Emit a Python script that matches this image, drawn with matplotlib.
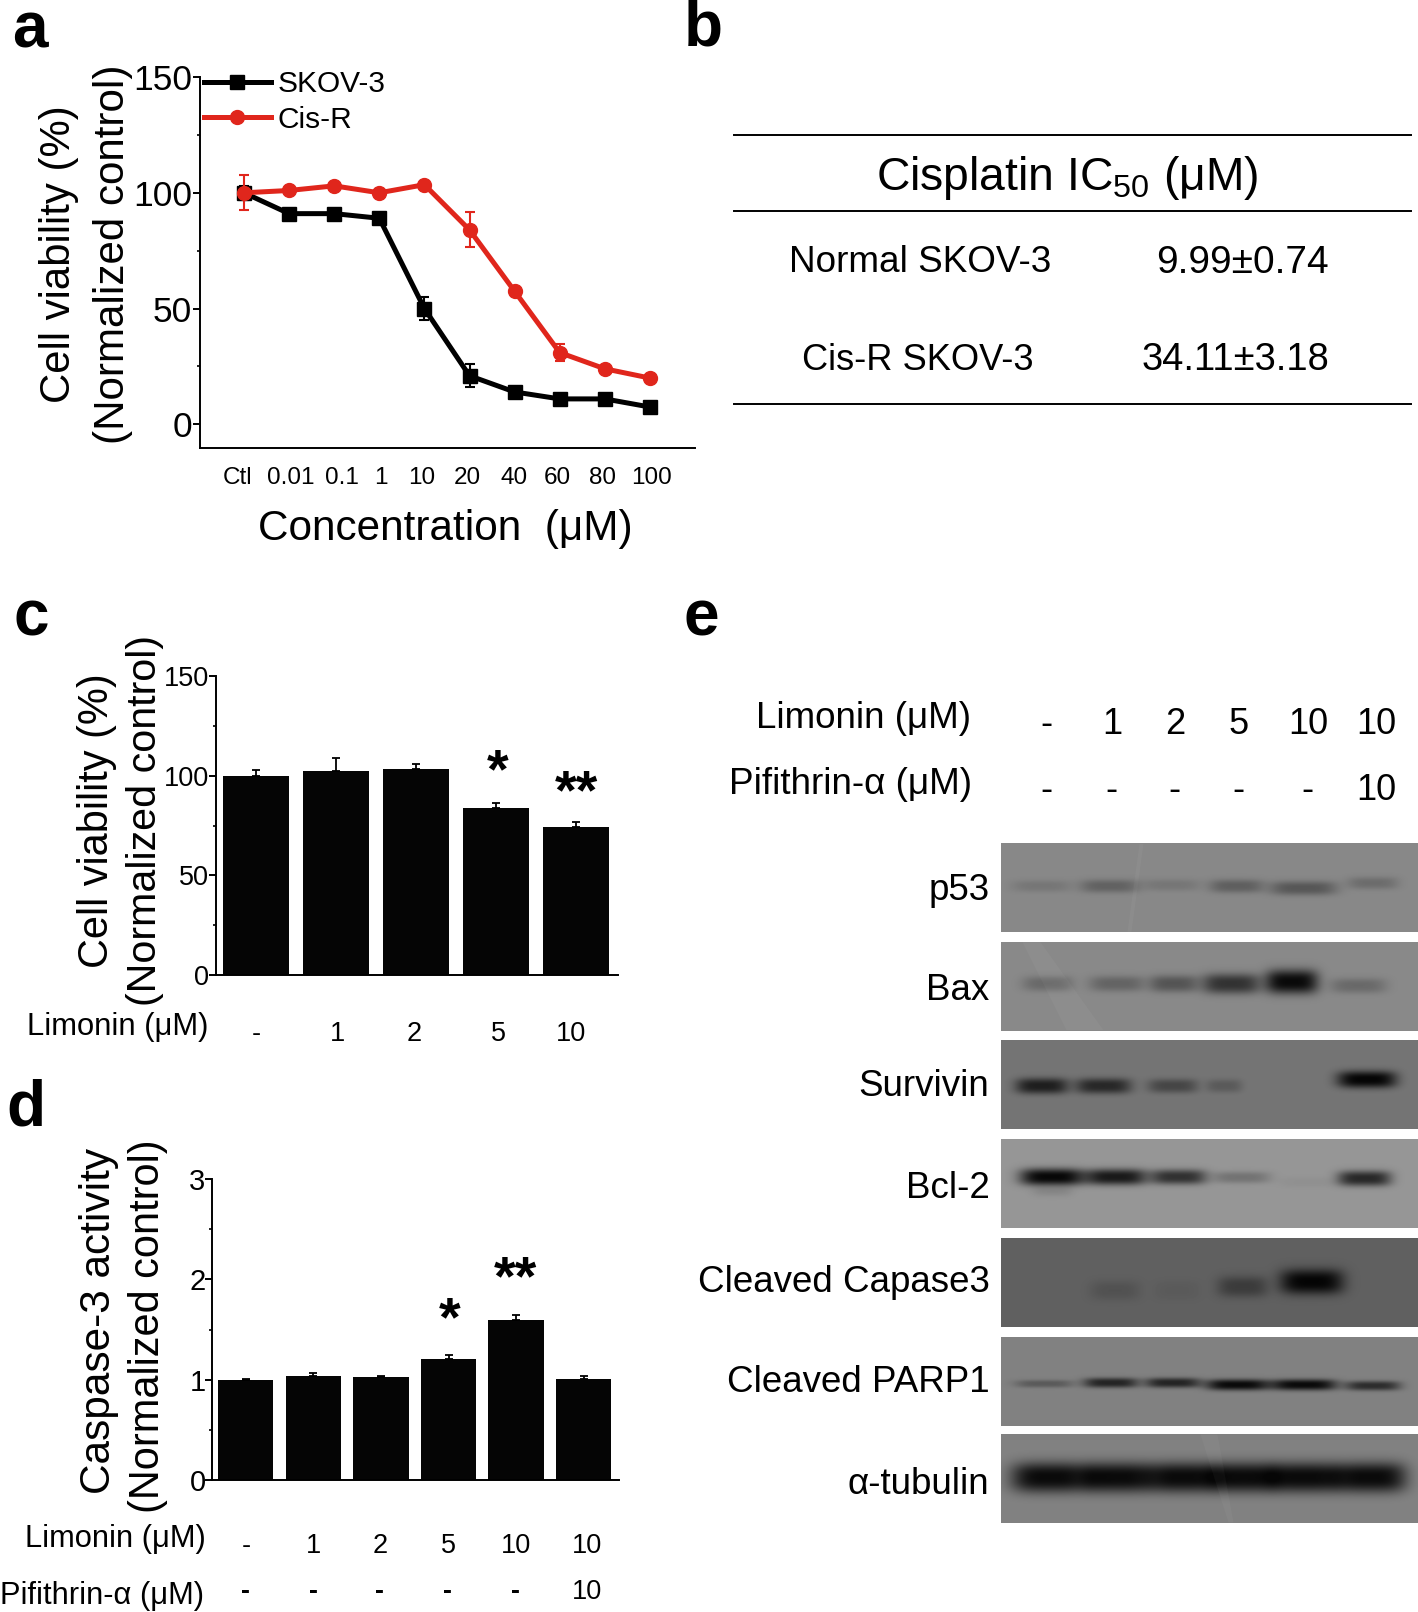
import numpy as np
import matplotlib
matplotlib.use("Agg")
import matplotlib.pyplot as plt
from matplotlib.lines import Line2D
from matplotlib.transforms import Affine2D

plt.rcParams['font.family'] = ['Liberation Sans', 'DejaVu Sans']
plt.rcParams['mathtext.default'] = 'regular'
plt.rcParams['mathtext.fontset'] = 'custom'
plt.rcParams['mathtext.rm'] = 'Liberation Sans'

W, H = 1418, 1612
RED = '#E0261C'

# ---------- data ----------
conc_labels = ['Ctl', '0.01', '0.1', '1', '10', '20', '40', '60', '80', '100']
skov = [100, 91, 91, 89, 50, 21, 14, 11, 11, 7.5]
skov_err = [3, 1.5, 1.5, 1.5, 5, 5, 1.5, 1.5, 1.5, 2]
cisr = [100, 101, 103, 100, 103.5, 84, 57.5, 31, 24, 20]
cisr_err = [7.5, 1.5, 1.5, 1.5, 1.5, 7.5, 2, 3.5, 1.5, 1.5]

c_labels = ['-', '1', '2', '5', '10']
c_vals = [100, 102.3, 103.2, 84, 74]
c_errs = [2.6, 6.5, 2.6, 2.4, 3]

d_labels = ['-', '1', '2', '5', '10', '10']
d_row2 = ['-', '-', '-', '-', '-', '10']
d_vals = [1.0, 1.04, 1.03, 1.21, 1.59, 1.01]
d_errs = [0.01, 0.03, 0.01, 0.04, 0.05, 0.03]

ic50_rows = ['Normal SKOV-3', 'Cis-R SKOV-3']
ic50_vals = ['9.99±0.74', '34.11±3.18']

blot_names = ['p53', 'Bax', 'Survivin', 'Bcl-2', 'Cleaved Capase3', 'Cleaved PARP1', 'α-tubulin']
# band darkness per lane (0 = background, 1 = black)
blot_p53 = [0.13, 0.28, 0.13, 0.30, 0.36, 0.20]
blot_bax = [0.23, 0.27, 0.38, 0.63, 0.93, 0.23]
blot_survivin = [0.74, 0.66, 0.40, 0.23, 0.0, 0.96]
blot_bcl2 = [0.95, 0.83, 0.67, 0.23, 0.04, 0.73]
blot_casp = [0.0, 0.15, 0.06, 0.38, 0.95, 0.0]
blot_parp = [0.30, 0.72, 0.72, 0.92, 0.92, 0.65]
blot_tub = [0.92, 0.92, 0.92, 0.92, 0.92, 0.92]

fig = plt.figure(figsize=(W / 100, H / 100), dpi=100, facecolor='white')
px = Affine2D().scale(1, -1).translate(0, H)
renderer = fig.canvas.get_renderer()


def T(x, y, s, size, ha='center', va='center', **kw):
    return fig.text(x, y, s, transform=px, fontsize=size, ha=ha, va=va, color='black', **kw)


def fit(s, a, b, c, rot=False, **kw):
    """text fitted to span a..b (x, or y when rotated), centred at c on the other axis"""
    if rot:
        t = T(c, (a + b) / 2, s, 20, rotation=90, **kw)
        e = t.get_window_extent(renderer).height
    else:
        t = T((a + b) / 2, c, s, 20, **kw)
        e = t.get_window_extent(renderer).width
    t.set_fontsize(20 * abs(b - a) / e)
    return t


def make_axes(l, t, r, b):
    ax = fig.add_axes([l / W, 1 - b / H, (r - l) / W, (b - t) / H])
    ax.patch.set_alpha(0)
    ax.spines['top'].set_visible(False)
    ax.spines['right'].set_visible(False)
    for s in ('left', 'bottom'):
        ax.spines[s].set_linewidth(1.4)
    return ax


# ---------- panel letters ----------
for s, x, y in [('a', 12, 47), ('b', 684, 45), ('c', 13, 636), ('d', 6, 1126), ('e', 684, 635)]:
    T(x, y, s, 46, ha='left', va='baseline', fontweight='bold')

# ---------- panel a ----------
ax = make_axes(199.5, 77, 695, 448)
ax.set_xlim(-0.987, 10.0)
ax.set_ylim(-10.2, 150)
xs = np.arange(len(conc_labels))
ax.errorbar(xs, skov, yerr=skov_err, color='black', lw=3.6, marker='s', ms=9.5,
            elinewidth=1.5, capsize=3.6, capthick=1.5, zorder=3)
ax.errorbar(xs, cisr, yerr=cisr_err, color=RED, lw=3.6, marker='o', ms=10,
            elinewidth=1.5, capsize=3.6, capthick=1.5, zorder=4)
ax.set_yticks([0, 50, 100, 150])
ax.set_yticks([25, 75, 125], minor=True)
ax.tick_params(axis='y', which='major', length=4.7, width=1.4, pad=0.5, labelsize=25.5)
ax.tick_params(axis='y', which='minor', length=2.5, width=1.2)
a_label_px = [238, 291, 341.5, 381, 422, 467, 514, 557.6, 602, 651]
ax.set_xticks([(p - 244) / 45.1 for p in a_label_px], conc_labels, fontsize=17.5)
ax.tick_params(axis='x', length=0, pad=14)
handles = [Line2D([], [], color='black', lw=3.6, marker='s', ms=9.5),
           Line2D([], [], color=RED, lw=3.6, marker='o', ms=10)]
ax.legend(handles, ['SKOV-3', 'Cis-R'], loc='upper left', bbox_to_anchor=(204 / W, 1 - 70 / H),
          bbox_transform=fig.transFigure, frameon=False, fontsize=21.5, borderpad=0,
          borderaxespad=0, handlelength=2.24, handletextpad=0.22, labelspacing=0.26)
fit('Cell viability (%)', 105, 404, 59, rot=True)
fit('(Normalized control)', 65, 444, 113, rot=True)
fit('Concentration  (μM)', 259, 632, 529)

# ---------- panel b ----------
for y in (134.7, 210.8, 404):
    fig.add_artist(Line2D([734 / W, 1411 / W], [1 - y / H] * 2, color='black', lw=1.4))
fit('Cisplatin IC$_{50}$ (μM)', 876, 1259, 178)
for s, v, x0, x1, vx0, y in zip(ic50_rows, ic50_vals, (789, 802), (1051, 1034), (1156, 1141), (263, 360)):
    fit(s, x0, x1, y)
    fit(v, vx0, 1329, y)

# ---------- panel c ----------
ax = make_axes(216, 676, 618, 975)
ci = np.arange(len(c_vals))
ax.bar(ci, c_vals, width=0.825, color='#050505')
ax.errorbar(ci, c_vals, yerr=[np.zeros(len(c_errs)), c_errs], fmt='none', ecolor='black',
            elinewidth=1.3, capsize=2.6, capthick=1.3)
ax.set_xlim(-0.5, 4.525)
ax.set_ylim(0, 150)
ax.set_yticks([0, 50, 100, 150])
ax.set_yticks([25, 75, 125], minor=True)
ax.tick_params(axis='y', which='major', length=5, width=1.4, pad=0, labelsize=19.5)
ax.tick_params(axis='y', which='minor', length=2.5, width=1.2)
c_label_px = [256, 337, 414.6, 498, 571.5]
ax.set_xticks([(p - 256) / 80 for p in c_label_px], c_labels, fontsize=19.5)
ax.tick_params(axis='x', length=0, pad=33)
fit('Cell viability (%)', 673, 969, 97, rot=True)
fit('(Normalized control)', 635, 1006, 144.5, rot=True)
fit('Limonin (μM)', 26.5, 208, 1026.5)
T(498, 773, '*', 40, fontweight='bold')
T(576, 794, '**', 40, fontweight='bold')

# ---------- panel d ----------
ax = make_axes(212.5, 1179, 618.7, 1480)
di = np.arange(len(d_vals))
ax.bar(di, d_vals, width=0.82, color='#050505')
ax.errorbar(di, d_vals, yerr=[np.zeros(len(d_errs)), d_errs], fmt='none', ecolor='black',
            elinewidth=1.3, capsize=2.6, capthick=1.3)
ax.set_xlim((212.5 - 245.75) / 67.6, (618.7 - 245.75) / 67.6)
ax.set_ylim(0, 3)
ax.set_yticks([0, 1, 2, 3])
ax.set_yticks([0.5, 1.5, 2.5], minor=True)
ax.tick_params(axis='y', which='major', length=5, width=1.4, pad=0, labelsize=21)
ax.tick_params(axis='y', which='minor', length=2.5, width=1.2)
d_label_px = [246, 313.5, 380, 448, 515.6, 587]
ax.set_xticks([(p - 245.75) / 67.6 for p in d_label_px], d_labels, fontsize=19.5)
ax.tick_params(axis='x', length=0, pad=38.3)
for s, p in zip(d_row2, d_label_px):
    T(p, 1592, s, 19.5, fontweight='bold' if s == '-' else 'normal')
fit('Caspase-3 activity', 1148, 1494, 99, rot=True)
fit('(Normalized control)', 1139, 1513, 148.5, rot=True)
fit('Limonin (μM)', 25, 206, 1539.5)
fit('Pifithrin-α (μM)', 0, 204, 1596)
T(450, 1321, '*', 40, fontweight='bold')
T(515.6, 1280, '**', 40, fontweight='bold')

# ---------- panel e ----------
fit('Limonin (μM)', 756, 971, 719)
fit('Pifithrin-α (μM)', 728.5, 972, 785)
e_row1 = ['-', '1', '2', '5', '10', '10']
e_row2 = ['-', '-', '-', '-', '-', '10']
e_col1 = [1046.5, 1112.5, 1175, 1239, 1308, 1376]
e_col2 = [1046.5, 1111.5, 1174, 1238, 1307.5, 1376]
for s, x in zip(e_row1, e_col1):
    T(x, 724, s, 26)
for s, x in zip(e_row2, e_col2):
    T(x, 790, s, 26)

blots = [blot_p53, blot_bax, blot_survivin, blot_bcl2, blot_casp, blot_parp, blot_tub]
blot_tops = [843.3, 941.7, 1040, 1139, 1237.7, 1336.7, 1434]
blot_bg = [136, 137, 117, 150, 96, 129, 130]
blot_label_y = [891, 991, 1087, 1188, 1282, 1383, 1484]
band_y = [
    [886, 886, 885, 886, 888, 883],
    [983, 983, 983, 983, 981, 985],
    [1085.5, 1085.5, 1085.5, 1085.5, 1085.5, 1079],
    [1176.5, 1176.5, 1176.5, 1177, 1182, 1178],
    [1285, 1290, 1290, 1286, 1281, 1285],
    [1383, 1382, 1382, 1384, 1384, 1385],
    [1477, 1477, 1477, 1477, 1477, 1477],
]
band_sy = [(5, 7), (6, 12), (6, 8.5), (5, 8.5), (9, 12.5), (3, 5.5), (15, 15)]
# lane spans in pixels
band_l = [
    [1015, 1083, 1145, 1212, 1273, 1350],
    [1025, 1092, 1152, 1205, 1268, 1333],
    [1018, 1078, 1150, 1208, 1270, 1340],
    [1023, 1088, 1153, 1215, 1283, 1340],
    [1030, 1093, 1157, 1220, 1283, 1345],
    [1018, 1086, 1148, 1209, 1274, 1348],
    [1015, 1087, 1150, 1213, 1273, 1337],
]
band_r = [
    [1068, 1135, 1197, 1260, 1333, 1395],
    [1070, 1142, 1195, 1257, 1315, 1383],
    [1065, 1128, 1195, 1240, 1300, 1393],
    [1080, 1143, 1203, 1267, 1333, 1388],
    [1060, 1137, 1197, 1265, 1340, 1380],
    [1070, 1135, 1197, 1265, 1333, 1397],
    [1085, 1147, 1213, 1273, 1335, 1402],
]
# faint diagonal film marks: blot index, top-left x, top-right x, bottom-left x, bottom-right x
streaks = [(0, 1139, 1143, 1127, 1131), (1, 1022, 1040, 1066, 1103), (6, 1200, 1217, 1228, 1233)]
# faint extra band under the first Bcl-2 lane
extra_band = (3, 1032, 1072, 1191, 0.10, 5)

BL, BR, BH = 1001, 1418, 89
yy, xx = np.mgrid[0:int(BH), BL:BR]
for i, (name, levels, top, bg, ly, bys, (s0, s1), ls, rs) in enumerate(zip(
        blot_names, blots, blot_tops, blot_bg, blot_label_y, band_y, band_sy, band_l, band_r)):
    ink = np.zeros(xx.shape, float)
    for lv, by, l, r in zip(levels, bys, ls, rs):
        c, hw = (l + r) / 2, (r - l) / 2 * 1.12
        s = s0 + (s1 - s0) * lv / max(levels)
        ink += lv * np.exp(-np.abs((xx - c) / hw) ** 4) * np.exp(-np.abs((yy - (by - top)) / s) ** 2.6)
    if extra_band[0] == i:
        _, l, r, by, lv, s = extra_band
        ink += lv * np.exp(-np.abs((xx - (l + r) / 2) / ((r - l) / 2)) ** 4) * np.exp(-((yy - (by - top)) / s) ** 2)
    img = bg * (1 - np.clip(ink, 0, 0.95))
    a = fig.add_axes([BL / W, 1 - (top + BH) / H, (BR - BL) / W, BH / H])
    a.imshow(img, cmap='gray', vmin=0, vmax=255, aspect='auto', interpolation='bilinear')
    for k, tl, tr, bl, br in streaks:
        if k == i:
            a.fill([tl - BL, tr - BL, br - BL, bl - BL], [0, 0, BH - 1, BH - 1],
                   color='white', alpha=0.035, lw=0)
    a.set_xlim(-0.5, BR - BL - 0.5)
    a.set_ylim(BH - 0.5, -0.5)
    a.axis('off')
    T(989.5, ly, name, 26.5, ha='right')

fig.savefig('out.png', dpi=100, facecolor='white')
